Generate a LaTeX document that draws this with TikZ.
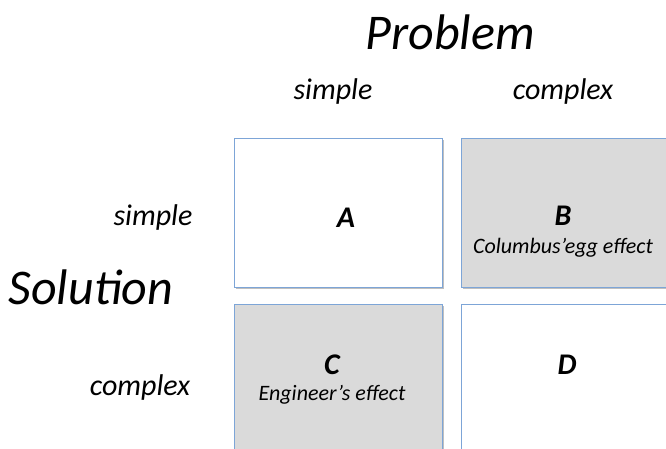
\documentclass[tikz,border=0pt]{standalone}
\usepackage{fontspec}
\setmainfont{Carlito}
\usetikzlibrary{shadows}
\definecolor{boxblue}{RGB}{125,165,215}
\definecolor{boxgray}{RGB}{218,218,218}
\begin{document}
\begin{tikzpicture}[x=1pt,y=-1pt,
  cell/.style={draw=boxblue,line width=0.8pt,minimum width=208pt,minimum height=149pt,inner sep=0pt,anchor=north west,
    drop shadow={shadow xshift=1.2pt,shadow yshift=-1.2pt,opacity=0.25,fill=black}},
  lbl/.style={font=\itshape\fontsize{30}{34}\selectfont,inner sep=0pt},
  big/.style={font=\itshape\fontsize{50}{56}\selectfont,inner sep=0pt},
  let/.style={font=\bfseries\itshape\fontsize{30}{34}\selectfont,inner sep=0pt},
  sub/.style={font=\itshape\fontsize{22}{26}\selectfont,inner sep=0pt}]
\useasboundingbox (0,0) rectangle (666,449);
\clip (0,0) rectangle (666,449);
\fill[white] (0,0) rectangle (666,449);
\node[cell,fill=white] (A) at (234,138) {};
\node[cell,fill=boxgray] (B) at (461,138) {};
\node[cell,fill=boxgray] (C) at (234,304) {};
\node[cell,fill=white] (D) at (461,304) {};
\node[big] (prob) at (450,32) {Problem};
\node[big] (sol) at (91,287) {Solution};
\node[lbl] (ps) at (333,92) {simple};
\node[lbl] (pc) at (563,92) {complex};
\node[lbl] (ss) at (153,218) {simple};
\node[lbl] (sc) at (140,387) {complex};
\node[let] (la) at (346,218) {A};
\node[let] (lb) at (563,216) {B};
\node[sub] (tb) at (563,248) {Columbus’egg effect};
\node[let] (lc) at (332,365) {C};
\node[sub] (tc) at (332,395) {Engineer’s effect};
\node[let] (ld) at (567,365) {D};
\end{tikzpicture}
\end{document}
